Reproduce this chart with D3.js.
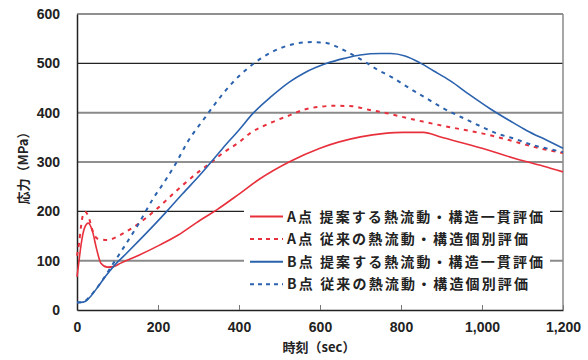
<!DOCTYPE html>
<html>
<head>
<meta charset="utf-8">
<script src="https://cdn.jsdelivr.net/npm/d3@7"></script>
<style>
  body { margin: 0; background: #fff; }
  text { font-family: "Liberation Sans", Arial, sans-serif; }
  .jp { font-family: "Noto Sans CJK JP", sans-serif; }
</style>
</head>
<body>
<div class="canvas"></div>
<script>
// 時刻(sec) と 応力(MPa)
const aProposed = [
    [0, 67], [5, 100], [10, 132], [18, 165], [28, 176], [38, 160], [48, 125], [59, 95],
    [75, 87], [90, 88], [108, 95], [150, 110], [205, 132], [250, 152], [304, 182],
    [345, 203], [400, 235], [450, 265], [526, 301], [600, 328], [700, 351], [760, 358],
    [805, 360], [855, 360], [900, 350], [1000, 328], [1094, 304], [1150, 292], [1200, 280]
];
const aConventional = [
    [0, 110], [5, 135], [10, 170], [16, 196], [20, 199], [28, 190], [38, 162], [50, 145],
    [75, 142], [100, 149], [120, 158], [160, 180], [200, 207], [250, 245], [300, 280],
    [328, 297], [360, 318], [400, 340], [427, 358], [480, 380], [526, 395], [560, 406],
    [600, 412], [640, 414], [680, 413], [720, 406], [760, 400], [800, 392], [854, 382],
    [900, 374], [950, 366], [1000, 358], [1060, 346], [1126, 331], [1200, 318]
];
const bProposed = [
    [0, 15], [15, 16], [25, 20], [34, 28], [50, 45], [70, 68], [92, 90], [120, 113],
    [150, 138], [190, 172], [225, 203], [260, 235], [304, 274], [328, 297], [360, 328],
    [400, 365], [435, 399], [480, 433], [526, 463], [560, 480], [617, 500], [660, 510],
    [699, 517], [750, 520], [775, 520], [810, 515], [847, 501], [880, 485], [921, 465],
    [970, 436], [1020, 408], [1070, 383], [1110, 364], [1160, 344], [1200, 328]
];
const bConventional = [
    [0, 15], [15, 16], [30, 26], [60, 57], [90, 95], [110, 120], [150, 172], [188, 226],
    [220, 265], [246, 300], [271, 338], [316, 390], [341, 418], [382, 459], [423, 491],
    [460, 513], [500, 530], [540, 540], [580, 543], [610, 542], [641, 534], [670, 522],
    [715, 501], [740, 488], [777, 472], [822, 449], [863, 429], [904, 409], [954, 389],
    [1003, 370], [1036, 358], [1077, 348], [1127, 334], [1168, 326], [1200, 320]
];

const legendLabels = [
    'A点 提案する熱流動・構造一貫評価',
    'A点 従来の熱流動・構造個別評価',
    'B点 提案する熱流動・構造一貫評価',
    'B点 従来の熱流動・構造個別評価'
];
const xTicks = [0, 200, 400, 600, 800, 1000, 1200];
const yTicks = [0, 100, 200, 300, 400, 500, 600];
const xTitle = '時刻（sec）';
const yTitle = '応力（MPa）';

const width = 588, height = 360;
const margin = { top: 14, right: 25, bottom: 50, left: 77 };
const red = '#e8303c', blue = '#2b62ae';

const series = [
    { data: aProposed, color: red, dash: null },
    { data: aConventional, color: red, dash: '4,5' },
    { data: bProposed, color: blue, dash: null },
    { data: bConventional, color: blue, dash: '4,5' }
];

const svg = d3.select('.canvas')
    .append('svg')
    .attr('width', width)
    .attr('height', height)
    .attr('style', 'background:#fff');

const x = d3.scaleLinear().domain([0, 1200]).range([margin.left, width - margin.right]);
const y = d3.scaleLinear().domain([0, 600]).range([height - margin.bottom, margin.top]);

// grid lines (100 and 400 are grey in the original)
svg.append('g')
    .selectAll('line')
    .data(yTicks.filter(d => d > 0))
    .enter()
    .append('line')
    .attr('x1', x(0))
    .attr('x2', x(1200))
    .attr('y1', d => y(d))
    .attr('y2', d => y(d))
    .attr('stroke', d => (d === 100 || d === 400) ? '#8a8a8a' : '#222')
    .attr('stroke-width', d => (d === 100 || d === 400) ? 2 : 1.2);

// frame
svg.append('line')
    .attr('x1', x(1200)).attr('x2', x(1200))
    .attr('y1', y(600)).attr('y2', y(0))
    .attr('stroke', '#8a8a8a').attr('stroke-width', 1.5);

const xAxis = svg.append('g')
    .attr('transform', `translate(0,${y(0)})`)
    .call(d3.axisBottom(x).tickValues(xTicks).tickSizeInner(-5).tickSizeOuter(0)
        .tickFormat(d => d3.format(',')(d)));
xAxis.select('.domain').attr('stroke', '#222').attr('stroke-width', 1.5);
xAxis.selectAll('.tick line').attr('stroke', '#777');
xAxis.selectAll('.tick text')
    .attr('y', 12)
    .attr('font-size', 14)
    .attr('font-weight', 'bold')
    .attr('fill', '#222');

const yAxis = svg.append('g')
    .attr('transform', `translate(${x(0)},0)`)
    .call(d3.axisLeft(y).tickValues(yTicks).tickSize(0).tickPadding(17));
yAxis.select('.domain').attr('stroke', '#222').attr('stroke-width', 1.5);
yAxis.selectAll('.tick text')
    .attr('font-size', 14)
    .attr('font-weight', 'bold')
    .attr('fill', '#222');

svg.append('text')
    .attr('class', 'jp')
    .attr('x', 319)
    .attr('y', 352)
    .attr('text-anchor', 'middle')
    .attr('font-size', 13)
    .attr('font-weight', 'bold')
    .attr('fill', '#222')
    .text(xTitle);

svg.append('text')
    .attr('class', 'jp')
    .attr('transform', 'translate(28,165) rotate(-90)')
    .attr('text-anchor', 'middle')
    .attr('font-size', 13)
    .attr('font-weight', 'bold')
    .attr('fill', '#222')
    .text(yTitle);

// curves
const line = d3.line()
    .x(d => x(d[0]))
    .y(d => y(d[1]))
    .curve(d3.curveMonotoneX);

svg.append('g')
    .selectAll('path')
    .data(series)
    .enter()
    .append('path')
    .attr('fill', 'none')
    .attr('stroke', d => d.color)
    .attr('stroke-width', d => d.dash ? 2 : 1.6)
    .attr('stroke-dasharray', d => d.dash)
    .attr('d', d => line(d.data));

// legend
const legend = svg.append('g');
legend.append('rect')
    .attr('x', 244)
    .attr('y', 203)
    .attr('width', 306)
    .attr('height', 94)
    .attr('fill', '#fff');

const items = legend.selectAll('.item')
    .data(series)
    .enter()
    .append('g')
    .attr('class', 'item')
    .attr('transform', (d, i) => `translate(250, ${216.5 + i * 22.6})`);

items.append('line')
    .attr('x1', 0)
    .attr('x2', 33)
    .attr('stroke', d => d.color)
    .attr('stroke-width', 2)
    .attr('stroke-dasharray', d => d.dash ? '4,4' : null);

items.append('text')
    .attr('class', 'jp')
    .attr('x', 37)
    .attr('dy', 5)
    .attr('font-size', 14)
    .attr('font-weight', 'bold')
    .attr('fill', '#222')
    .attr('textLength', (d, i) => i % 2 === 0 ? 256 : 241)
    .text((d, i) => legendLabels[i]);
</script>
</body>
</html>
